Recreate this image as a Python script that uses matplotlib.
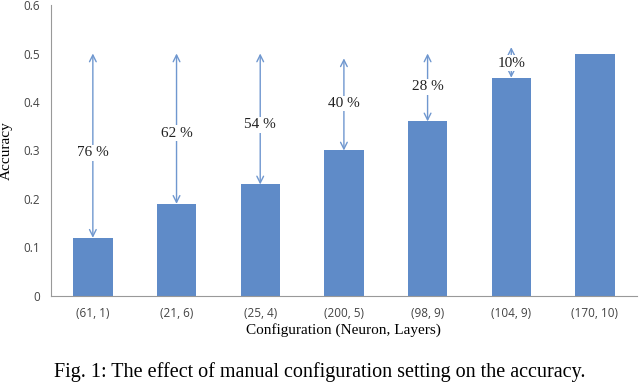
import matplotlib.pyplot as plt

# data
configs = ['(61, 1)', '(21, 6)', '(25, 4)', '(200, 5)', '(98, 9)', '(104, 9)', '(170, 10)']
accuracy = [0.12, 0.19, 0.23, 0.30, 0.36, 0.45, 0.50]
gap_labels = ['76 %', '62 %', '54 %', '40 %', '28 %', '10%']
arrow_tops = [0.50, 0.50, 0.50, 0.49, 0.50, 0.513]
label_y = [0.295, 0.336, 0.353, 0.397, 0.431, 0.48]

bar_color = '#5F8BC8'
arrow_color = '#6F97CF'

fig = plt.figure(figsize=(6.4, 3.85), dpi=100)
ax = fig.add_axes([0.0797, 0.2312, 0.9153, 0.7558])

x = range(len(configs))
ax.bar(x, accuracy, width=0.47, color=bar_color, zorder=2)

for i, lab in enumerate(gap_labels):
    ax.annotate('', xy=(i, accuracy[i]), xytext=(i, arrow_tops[i]),
                arrowprops=dict(arrowstyle='<->', color=arrow_color, lw=1.0,
                                shrinkA=0, shrinkB=0, mutation_scale=12))
    ax.text(i, label_y[i], lab, ha='center', va='center', fontsize=11,
            family='Liberation Serif', color='#222222',
            bbox=dict(facecolor='white', edgecolor='none', pad=1.0), zorder=3)

ax.set_xlim(-0.5, 6.5)
ax.set_ylim(0, 0.6)
ax.set_yticks([0, 0.1, 0.2, 0.3, 0.4, 0.5, 0.6])
ax.set_yticklabels(['0', '0.1', '0.2', '0.3', '0.4', '0.5', '0.6'])
ax.set_xticks(list(x))
ax.set_xticklabels(configs)
ax.tick_params(axis='both', length=0, labelsize=8.5, labelcolor='#444444')
ax.tick_params(axis='x', pad=8)
ax.tick_params(axis='y', pad=8)
for lbl in ax.get_xticklabels() + ax.get_yticklabels():
    lbl.set_family('Open Sans')

for s in ['top', 'right']:
    ax.spines[s].set_visible(False)
ax.spines['left'].set_color('#999999')
ax.spines['bottom'].set_color('#999999')

ax.set_ylabel('Accuracy', family='Liberation Serif', fontsize=11)
ax.yaxis.set_label_coords(-0.066, 0.5)
ax.set_xlabel('Configuration (Neuron, Layers)', family='Liberation Serif', fontsize=11, labelpad=2)

fig.text(0.5, 0.033, 'Fig. 1: The effect of manual configuration setting on the accuracy.',
         ha='center', va='center', family='Liberation Serif', fontsize=14.5)

plt.savefig('out.png', dpi=100)
